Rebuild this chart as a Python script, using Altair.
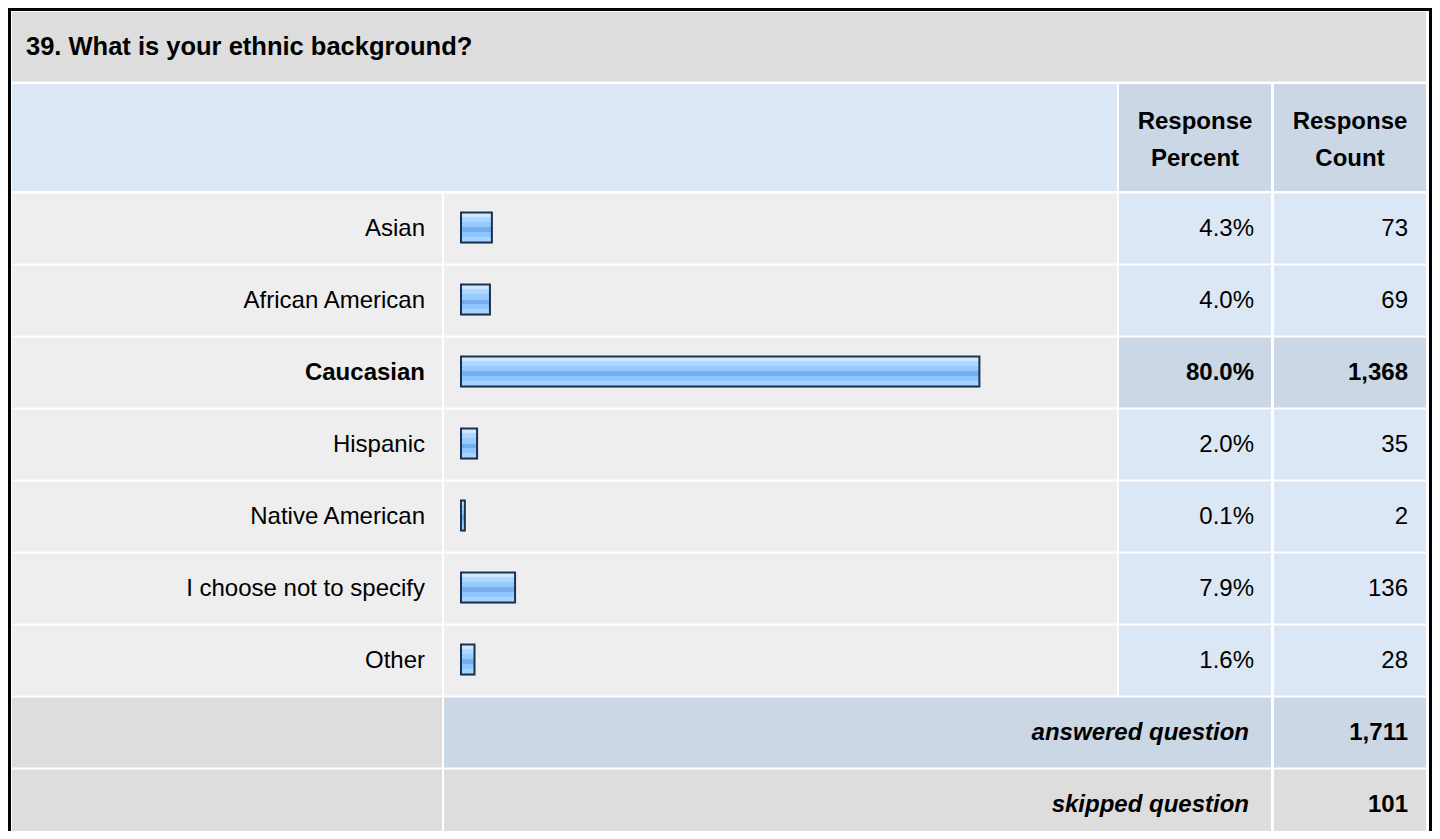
import altair as alt
import pandas as pd

# ---------------- data ----------------
question = "39. What is your ethnic background?"
categories = ["Asian", "African American", "Caucasian", "Hispanic",
              "Native American", "I choose not to specify", "Other"]
percents = [4.3, 4.0, 80.0, 2.0, 0.1, 7.9, 1.6]
counts = [73, 69, 1368, 35, 2, 136, 28]
summary_labels = ["answered question", "skipped question"]
summary_counts = [1711, 101]
column_headers = ["Response\nPercent", "Response\nCount"]

# ---------------- layout / style ----------------
FONT = "Liberation Sans"
FS = 24
OFF = 8
W, H = 1424, 823
GRAY = "#DDDDDD"
LIGHT = "#EEEEEE"
BLUE_L = "#DCE7F5"
BLUE_D = "#CBD7E5"

COLS = {"label": (12, 442), "bar": (444, 1117), "pct": (1119, 1271),
        "cnt": (1274, 1426), "mid": (444, 1271)}

rows = categories + summary_labels
highlight = categories[percents.index(max(percents))]


def px_x():
    return alt.Scale(domain=[OFF, OFF + W], range=[0, W], nice=False, zero=False)


def px_y():
    return alt.Scale(domain=[OFF, OFF + H], range=[0, H], nice=False, zero=False)


STEP = 72
ROW_TOP = 192.5
row_scale = alt.Scale(domain=rows,
                      range=[ROW_TOP - OFF, ROW_TOP + STEP * len(rows) - OFF],
                      paddingInner=2 / STEP, paddingOuter=1 / STEP)

# frame + top (title/header) cells
top_cells = pd.DataFrame([
    {"x": 8, "x2": 1432, "y": 8, "y2": 900, "c": "#000000"},
    {"x": 11, "x2": 1429, "y": 11, "y2": 900, "c": "#FFFFFF"},
    {"x": 12, "x2": 1426, "y": 12, "y2": 81.5, "c": GRAY},
    {"x": 12, "x2": 1117, "y": 84, "y2": 191, "c": BLUE_L},
    {"x": 1119, "x2": 1271, "y": 84, "y2": 191, "c": BLUE_D},
    {"x": 1274, "x2": 1426, "y": 84, "y2": 191, "c": BLUE_D},
])

# row cells (positioned by the category band scale)
cell_records = []
for r in categories:
    hl = r == highlight
    for col, c in [("label", LIGHT), ("bar", LIGHT),
                   ("pct", BLUE_D if hl else BLUE_L), ("cnt", BLUE_D if hl else BLUE_L)]:
        cell_records.append({"row": r, "x": COLS[col][0], "x2": COLS[col][1], "c": c})
for r, cols in [(summary_labels[0], [("label", GRAY), ("mid", BLUE_D), ("cnt", BLUE_D)]),
                (summary_labels[1], [("label", GRAY), ("mid", GRAY), ("cnt", GRAY)])]:
    for col, c in cols:
        cell_records.append({"row": r, "x": COLS[col][0], "x2": COLS[col][1], "c": c})
row_cells = pd.DataFrame(cell_records)

df = pd.DataFrame({
    "row": categories,
    "pct": percents,
    "count": counts,
})
df["zero"] = 0.0
df["pct_txt"] = [f"{p:.1f}%" for p in percents]
df["cnt_txt"] = [f"{c:,}" for c in counts]
df["bold"] = [r == highlight for r in categories]

summ = pd.DataFrame({"row": summary_labels,
                     "cnt_txt": [f"{c:,}" for c in summary_counts]})

hdr = pd.DataFrame({"x": [1195, 1350], "t": column_headers})
title_df = pd.DataFrame({"t": [question]})

# ---------------- layers ----------------
frame = alt.Chart(top_cells).mark_rect().encode(
    x=alt.X("x:Q", scale=px_x(), axis=None),
    x2="x2:Q",
    y=alt.Y("y:Q", scale=px_y(), axis=None),
    y2="y2:Q",
    color=alt.Color("c:N", scale=None),
)

cells = alt.Chart(row_cells).mark_rect().encode(
    x=alt.X("x:Q", scale=px_x(), axis=None),
    x2="x2:Q",
    y=alt.Y("row:N", scale=row_scale, axis=None, sort=rows),
    color=alt.Color("c:N", scale=None),
)

grad = alt.Gradient(
    gradient="linear", x1=0, x2=0, y1=0, y2=1,
    stops=[
        alt.GradientStop(offset=0.0, color="#CFE8FF"),
        alt.GradientStop(offset=0.16, color="#CFE8FF"),
        alt.GradientStop(offset=0.16, color="#AED7FF"),
        alt.GradientStop(offset=0.32, color="#AED7FF"),
        alt.GradientStop(offset=0.32, color="#96CBFF"),
        alt.GradientStop(offset=0.50, color="#96CBFF"),
        alt.GradientStop(offset=0.50, color="#75AFEF"),
        alt.GradientStop(offset=0.66, color="#75AFEF"),
        alt.GradientStop(offset=0.66, color="#8DC5FF"),
        alt.GradientStop(offset=0.83, color="#8DC5FF"),
        alt.GradientStop(offset=0.83, color="#A8D4FF"),
        alt.GradientStop(offset=1.0, color="#A8D4FF"),
    ],
)

bar_scale = alt.Scale(domain=[0, 80], range=[461 - OFF, 976.2 - OFF], nice=False, zero=False)

bar_shadow = alt.Chart(df).mark_bar(
    size=30, color="#8E9CB0", opacity=0.6, x2Offset=3.2, xOffset=1, yOffset=0
).encode(
    x=alt.X("zero:Q", scale=bar_scale, axis=None),
    x2="pct:Q",
    y=alt.Y("row:N", scale=row_scale, axis=None, sort=rows),
)

bars = alt.Chart(df).mark_bar(
    size=30, fill=grad, stroke="#1B3150", strokeWidth=2, x2Offset=3.2, yOffset=-1
).encode(
    x=alt.X("zero:Q", scale=bar_scale, axis=None),
    x2="pct:Q",
    y=alt.Y("row:N", scale=row_scale, axis=None, sort=rows),
)


def row_text(data, field, xpos, bold=False, italic=False, filt=None):
    ch = alt.Chart(data)
    if filt is not None:
        ch = ch.transform_filter(filt)
    return ch.mark_text(
        align="right", baseline="middle", font=FONT, fontSize=FS, color="#000000",
        fontWeight="bold" if bold else "normal",
        fontStyle="italic" if italic else "normal",
    ).encode(
        x=alt.value(xpos - OFF),
        y=alt.Y("row:N", scale=row_scale, axis=None, sort=rows),
        text=f"{field}:N",
    )


lab_n = row_text(df, "row", 425, filt="!datum.bold")
lab_b = row_text(df, "row", 425, bold=True, filt="datum.bold")
pct_n = row_text(df, "pct_txt", 1254, filt="!datum.bold")
pct_b = row_text(df, "pct_txt", 1254, bold=True, filt="datum.bold")
cnt_n = row_text(df, "cnt_txt", 1408, filt="!datum.bold")
cnt_b = row_text(df, "cnt_txt", 1408, bold=True, filt="datum.bold")
sum_l = row_text(summ, "row", 1249, bold=True, italic=True)
sum_c = row_text(summ, "cnt_txt", 1408, bold=True)

headers = alt.Chart(hdr).mark_text(
    align="center", baseline="middle", font=FONT, fontSize=FS, fontWeight="bold",
    lineBreak="\n", lineHeight=37, color="#000000",
).encode(
    x=alt.X("x:Q", scale=px_x(), axis=None),
    y=alt.value(122 - OFF),
    text="t:N",
)

title = alt.Chart(title_df).mark_text(
    align="left", baseline="middle", font=FONT, fontSize=25.5, fontWeight="bold",
    color="#000000",
).encode(
    x=alt.value(26 - OFF),
    y=alt.value(46.5 - OFF),
    text="t:N",
)

chart = alt.layer(
    frame, cells, bar_shadow, bars, lab_n, lab_b, pct_n, pct_b, cnt_n, cnt_b,
    sum_l, sum_c, headers, title,
).resolve_scale(x="independent", y="independent").properties(
    width=W, height=H, padding=0, autosize="none", background="#FFFFFF",
).configure_view(stroke=None)

chart.save("out.html", embed_options={"renderer": "svg", "actions": False})
